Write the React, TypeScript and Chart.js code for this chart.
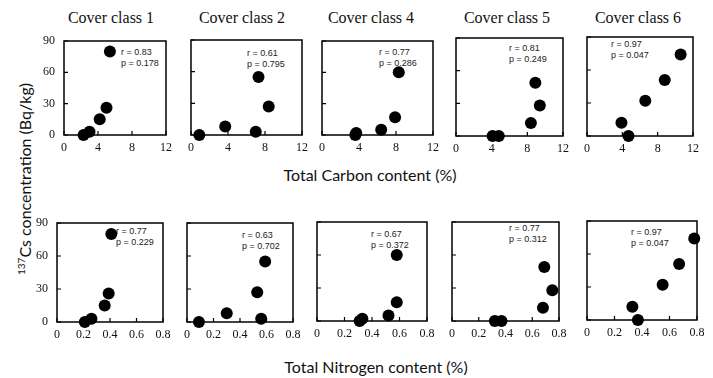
import React, { useEffect, useRef } from "react";
import { Chart, registerables } from "chart.js";

Chart.register(...registerables);

// ---------- data ----------
const coverClasses = ["Cover class 1", "Cover class 2", "Cover class 4", "Cover class 5", "Cover class 6"];

// 137Cs concentration (Bq/kg) per cover class
const cs1 = [0, 3, 15, 26, 80];
const cs2 = [0, 8, 3, 55, 27];
const cs4 = [0, 2, 5, 17, 60];
const cs5 = [0, 0, 12, 49, 28];
const cs6 = [12, 0, 32, 51, 74];

// Total carbon content (%)
const carbon1 = [2.3, 3.0, 4.2, 5.0, 5.4];
const carbon2 = [0.9, 3.7, 7.0, 7.3, 8.4];
const carbon4 = [3.6, 3.7, 6.4, 7.9, 8.3];
const carbon5 = [4.1, 4.8, 8.4, 8.9, 9.4];
const carbon6 = [3.9, 4.7, 6.6, 8.8, 10.6];

// Total nitrogen content (%)
const nitrogen1 = [0.21, 0.26, 0.36, 0.39, 0.41];
const nitrogen2 = [0.09, 0.3, 0.56, 0.59, 0.53];
const nitrogen4 = [0.31, 0.33, 0.52, 0.58, 0.58];
const nitrogen5 = [0.32, 0.37, 0.68, 0.69, 0.75];
const nitrogen6 = [0.33, 0.37, 0.55, 0.67, 0.78];

// correlation annotations
const carbonR = ["0.83", "0.61", "0.77", "0.81", "0.97"];
const carbonP = ["0.178", "0.795", "0.286", "0.249", "0.047"];
const nitrogenR = ["0.77", "0.63", "0.67", "0.77", "0.97"];
const nitrogenP = ["0.229", "0.702", "0.372", "0.312", "0.047"];

// tick labels
const carbonTicks = ["0", "4", "8", "12"];
const nitrogenTicks = ["0", "0.2", "0.4", "0.6", "0.8"];
const csTicks = ["0", "30", "60", "90"];

// ---------- layout ----------
type Box = { left: number; top: number; right: number; bottom: number };
const topBoxes: Box[] = [
  { left: 64, top: 41, right: 166, bottom: 135 },
  { left: 191, top: 40, right: 302, bottom: 135 },
  { left: 322, top: 41, right: 433, bottom: 135 },
  { left: 456, top: 38, right: 563, bottom: 136 },
  { left: 587, top: 37, right: 693, bottom: 136 },
];
const bottomBoxes: Box[] = [
  { left: 57, top: 223, right: 163, bottom: 322 },
  { left: 187, top: 223, right: 293, bottom: 322 },
  { left: 317, top: 222, right: 427, bottom: 321 },
  { left: 452, top: 222, right: 559, bottom: 321 },
  { left: 587, top: 221, right: 697, bottom: 320 },
];
const topNotes = [
  { x: 121, y: 52 },
  { x: 247, y: 53 },
  { x: 379, y: 52 },
  { x: 509, y: 48 },
  { x: 611, y: 44 },
];
const bottomNotes = [
  { x: 116, y: 231 },
  { x: 242, y: 235 },
  { x: 371, y: 234 },
  { x: 509, y: 228 },
  { x: 631, y: 232 },
];
const titleCenters = [111, 242, 371, 507, 638];

const PAD_L = 24;
const PAD_T = 20;
const PAD_R = 18;
const PAD_B = 22;

const SERIF = "'Liberation Serif', 'Times New Roman', Times, serif";
const SANS = "Lato, 'Liberation Sans', sans-serif";

const framePlugin = {
  id: "frame",
  beforeDatasetsDraw(chart: any) {
    const { ctx, chartArea } = chart;
    const { left, top, right, bottom } = chartArea;
    ctx.save();
    ctx.strokeStyle = "#000";
    ctx.lineWidth = 1.5;
    ctx.strokeRect(left, top, right - left, bottom - top);
    ctx.lineWidth = 1.2;
    const xs = chart.scales.x;
    const ys = chart.scales.y;
    ctx.beginPath();
    xs.ticks.forEach((t: any) => {
      const px = xs.getPixelForValue(t.value);
      ctx.moveTo(px, bottom);
      ctx.lineTo(px, bottom - 4);
    });
    ys.ticks.forEach((t: any) => {
      const py = ys.getPixelForValue(t.value);
      ctx.moveTo(left, py);
      ctx.lineTo(left + 4, py);
    });
    ctx.stroke();
    ctx.restore();
  },
};

type PanelProps = {
  box: Box;
  xs: number[];
  ys: number[];
  xMax: number;
  xStep: number;
  xLabels: string[];
  showY: boolean;
};

function Panel({ box, xs, ys, xMax, xStep, xLabels, showY }: PanelProps) {
  const ref = useRef<HTMLCanvasElement>(null);
  const width = box.right - box.left + PAD_L + PAD_R;
  const height = box.bottom - box.top + PAD_T + PAD_B;
  useEffect(() => {
    const chart = new Chart(ref.current as HTMLCanvasElement, {
      type: "scatter",
      data: {
        datasets: [
          {
            data: xs.map((x, i) => ({ x, y: ys[i] })),
            backgroundColor: "#000",
            borderColor: "#000",
            borderWidth: 0,
            pointRadius: 6,
            pointHoverRadius: 6,
            clip: false as any,
          },
        ],
      },
      options: {
        animation: false,
        responsive: false,
        events: [],
        layout: { padding: { left: 0, top: PAD_T, right: PAD_R, bottom: 0 } },
        plugins: { legend: { display: false }, tooltip: { enabled: false } },
        scales: {
          x: {
            type: "linear",
            min: 0,
            max: xMax,
            grid: { display: false, drawTicks: false, tickLength: 0 },
            border: { display: false },
            afterFit: (s: any) => {
              s.height = PAD_B;
            },
            ticks: {
              stepSize: xStep,
              padding: 6,
              color: "#111",
              maxRotation: 0,
              autoSkip: false,
              font: { family: SERIF, size: 12 },
              callback: (v: any, i: number) => xLabels[i] ?? String(v),
            },
          },
          y: {
            type: "linear",
            min: 0,
            max: 90,
            grid: { display: false, drawTicks: false, tickLength: 0 },
            border: { display: false },
            afterFit: (s: any) => {
              s.width = PAD_L;
            },
            ticks: {
              display: showY,
              stepSize: 30,
              padding: 9,
              color: "#111",
              font: { family: SERIF, size: 12 },
              callback: (v: any, i: number) => csTicks[i] ?? String(v),
            },
          },
        },
      },
      plugins: [framePlugin],
    });
    return () => chart.destroy();
  }, []);
  return (
    <canvas
      ref={ref}
      width={width}
      height={height}
      style={{
        position: "absolute",
        left: box.left - PAD_L,
        top: box.top - PAD_T,
        width,
        height,
        zIndex: 2,
      }}
    />
  );
}

function Note({ x, y, r, p }: { x: number; y: number; r: string; p: string }) {
  const st: React.CSSProperties = {
    position: "absolute",
    left: x,
    fontFamily: "'Liberation Sans', Arial, sans-serif",
    fontSize: 9,
    lineHeight: "11px",
    color: "#222",
    whiteSpace: "nowrap",
    zIndex: 1,
  };
  return (
    <>
      <div style={{ ...st, top: y - 5.5 }}>r = {r}</div>
      <div style={{ ...st, top: y + 5.5 }}>p = {p}</div>
    </>
  );
}

export default function App() {
  const cs = [cs1, cs2, cs4, cs5, cs6];
  const carbon = [carbon1, carbon2, carbon4, carbon5, carbon6];
  const nitrogen = [nitrogen1, nitrogen2, nitrogen4, nitrogen5, nitrogen6];
  return (
    <div
      style={{
        position: "absolute",
        left: 0,
        top: 0,
        width: 713,
        height: 378,
        background: "#fff",
        overflow: "hidden",
      }}
    >
      {coverClasses.map((c, i) => (
        <div
          key={"t" + i}
          style={{
            position: "absolute",
            left: titleCenters[i] - 60,
            width: 120,
            top: 8,
            textAlign: "center",
            fontFamily: SERIF,
            fontSize: 16,
            lineHeight: "20px",
            color: "#111",
          }}
        >
          {c}
        </div>
      ))}
      {topNotes.map((n, i) => (
        <Note key={"tn" + i} x={n.x} y={n.y} r={carbonR[i]} p={carbonP[i]} />
      ))}
      {bottomNotes.map((n, i) => (
        <Note key={"bn" + i} x={n.x} y={n.y} r={nitrogenR[i]} p={nitrogenP[i]} />
      ))}
      {topBoxes.map((b, i) => (
        <Panel
          key={"tp" + i}
          box={b}
          xs={carbon[i]}
          ys={cs[i]}
          xMax={12}
          xStep={4}
          xLabels={carbonTicks}
          showY={i === 0}
        />
      ))}
      {bottomBoxes.map((b, i) => (
        <Panel
          key={"bp" + i}
          box={b}
          xs={nitrogen[i]}
          ys={cs[i]}
          xMax={0.8}
          xStep={0.2}
          xLabels={nitrogenTicks}
          showY={i === 0}
        />
      ))}
      <div
        style={{
          position: "absolute",
          left: 270,
          width: 200,
          top: 165,
          textAlign: "center",
          fontFamily: SANS,
          fontSize: 16,
          lineHeight: "20px",
          color: "#111",
          whiteSpace: "nowrap",
        }}
      >
        Total Carbon content (%)
      </div>
      <div
        style={{
          position: "absolute",
          left: 266,
          width: 220,
          top: 357,
          textAlign: "center",
          fontFamily: SANS,
          fontSize: 16,
          lineHeight: "20px",
          color: "#111",
          whiteSpace: "nowrap",
        }}
      >
        Total Nitrogen content (%)
      </div>
      <div
        style={{
          position: "absolute",
          left: 21 - 120,
          top: 179 - 10,
          width: 240,
          height: 20,
          textAlign: "center",
          transform: "rotate(-90deg)",
          fontFamily: SANS,
          fontSize: 16,
          lineHeight: "20px",
          color: "#111",
          whiteSpace: "nowrap",
        }}
      >
        <sup style={{ fontSize: 10 }}>137</sup>Cs concentration (Bq/kg)
      </div>
    </div>
  );
}
